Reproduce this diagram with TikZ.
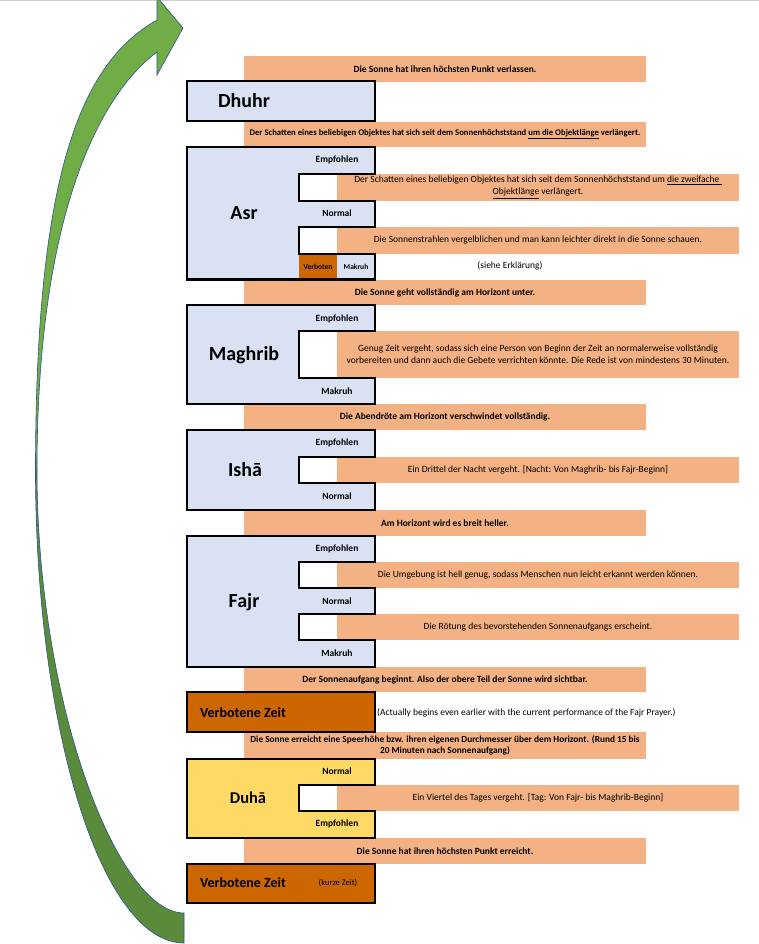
\documentclass[tikz,border=0pt]{standalone}
\usepackage{fontspec}
\setmainfont{Carlito}
\definecolor{boxblue}{HTML}{D9E1F2}
\definecolor{peach}{HTML}{F4B183}
\definecolor{burnt}{HTML}{CC6600}
\definecolor{sun}{HTML}{FFD966}
\definecolor{leafL}{HTML}{70AD47}
\definecolor{leafD}{HTML}{5A8B3A}
\definecolor{rim}{HTML}{2F528F}
\tikzset{
  banner/.style={fill=peach, inner sep=0pt, minimum width=402pt, minimum height=26pt, font=\fontsize{9.5}{11.5}\selectfont\bfseries, align=center},
  longbanner/.style={fill=peach, inner sep=0pt, minimum width=402pt, minimum height=26pt, font=\fontsize{9.5}{12}\selectfont, align=center},
  prayer/.style={draw=black, line width=2.6pt, fill=boxblue, line join=miter},
  bigname/.style={font=\fontsize{20}{24}\selectfont\bfseries, inner sep=0pt},
  midname/.style={font=\fontsize{14}{17}\selectfont\bfseries, inner sep=0pt},
  tag/.style={font=\fontsize{9.5}{11}\selectfont\bfseries, inner sep=0pt},
  tinytag/.style={font=\fontsize{7.5}{9}\selectfont\bfseries, inner sep=0pt},
  note/.style={font=\fontsize{9.5}{11}\selectfont, inner sep=0pt},
  arrowpart/.style={draw=rim, line width=0.6pt}
}
\begin{document}
\begin{tikzpicture}[x=1pt,y=-1pt]
\useasboundingbox (0,0) rectangle (759,944);
\draw[gray!35, line width=1pt] (0,0.5) -- (759,0.5);

% green curved arrow
\path[arrowpart, fill=leafD] (35.5,470) .. controls (35.5,731) and (102,943) .. (184,943) -- (184,913) .. controls (118,913) and (37,705) .. (37,470) -- cycle;
\path[arrowpart, fill=leafL] (35.5,470) .. controls (35.5,170) and (82,62.5) .. (157,20) -- (157,-3) -- (183,28) -- (157,75) -- (157,52) .. controls (97,97) and (37,220) .. (37,470) -- cycle;

% banners
\node[banner] (b1) at (445,69) {Die Sonne hat ihren höchsten Punkt verlassen.};
\node[banner, minimum height=25pt, font=\fontsize{8.7}{11}\selectfont\bfseries] (b2) at (445,134.5) {Der Schatten eines beliebigen Objektes hat sich seit dem Sonnenhöchststand \underline{um die Objektlänge} verlängert.};
\node[longbanner, minimum height=27pt] (asr1) at (538,187.5) {Der Schatten eines beliebigen Objektes hat sich seit dem Sonnenhöchststand um \underline{die zweifache\ }\\\underline{Objektlänge} verlängert.};
\node[longbanner, minimum height=27pt] (asr2) at (538,240.5) {Die Sonnenstrahlen vergelblichen und man kann leichter direkt in die Sonne schauen.};
\node[banner, minimum height=25pt] (b3) at (445,292.5) {Die Sonne geht vollständig am Horizont unter.};
\node[longbanner, minimum height=47pt] (mag1) at (538,354.5) {Genug Zeit vergeht, sodass sich eine Person von Beginn der Zeit an normalerweise vollständig\\vorbereiten und dann auch die Gebete verrichten könnte. Die Rede ist von mindestens 30 Minuten.};
\node[banner] (b4) at (445,417) {Die Abendröte am Horizont verschwindet vollständig.};
\node[longbanner] (isha1) at (538,470) {Ein Drittel der Nacht vergeht. [Nacht: Von Maghrib- bis Fajr-Beginn]};
\node[banner] (b5) at (445,523) {Am Horizont wird es breit heller.};
\node[longbanner] (fajr1) at (538,575) {Die Umgebung ist hell genug, sodass Menschen nun leicht erkannt werden können.};
\node[longbanner] (fajr2) at (538,627) {Die Rötung des bevorstehenden Sonnenaufgangs erscheint.};
\node[banner, minimum height=25pt] (b6) at (445,679.5) {Der Sonnenaufgang beginnt. Also der obere Teil der Sonne wird sichtbar.};
\node[banner, minimum height=27pt, font=\fontsize{9.3}{11}\selectfont\bfseries] (b7) at (445,745.5) {Die Sonne erreicht eine Speerhöhe bzw. ihren eigenen Durchmesser über dem Horizont. (Rund 15 bis\\20 Minuten nach Sonnenaufgang)};
\node[longbanner] (duha1) at (538,798) {Ein Viertel des Tages vergeht. [Tag: Von Fajr- bis Maghrib-Beginn]};
\node[banner] (b8) at (445,851) {Die Sonne hat ihren höchsten Punkt erreicht.};

% Dhuhr
\node[prayer, minimum width=188pt, minimum height=40pt, inner sep=0pt] (dhuhrbox) at (281,101) {};
\node[bigname] (dhuhr) at (244,101) {Dhuhr};

% Asr
\path[prayer] (187,147) -- (375,147) -- (375,174) -- (299,174) -- (299,201) -- (375,201) -- (375,227) -- (299,227) -- (299,254) -- (375,254) -- (375,279.5) -- (187,279.5) -- cycle;
\fill[burnt] (299,255.3) rectangle (337,278.2);
\node[bigname] (asr) at (244,213) {Asr};
\node[tag] (asrE) at (337,160) {Empfohlen};
\node[tag] (asrN) at (337,213.5) {Normal};
\node[tinytag] (asrV) at (318,267) {Verboten};
\node[tinytag] (asrM) at (356,267) {Makruh};
\node[note] (asrS) at (510,266) {(siehe Erklärung)};

% Maghrib
\path[prayer] (187,305) -- (375,305) -- (375,331) -- (299,331) -- (299,378) -- (375,378) -- (375,404) -- (187,404) -- cycle;
\node[bigname] (maghrib) at (244,355) {Maghrib};
\node[tag] (magE) at (337,319) {Empfohlen};
\node[tag] (magM) at (337,391) {Makruh};

% Isha
\path[prayer] (187,430) -- (375,430) -- (375,457) -- (299,457) -- (299,483) -- (375,483) -- (375,510) -- (187,510) -- cycle;
\node[bigname] (isha) at (245,470) {Ishā};
\node[tag] (ishaE) at (337,443) {Empfohlen};
\node[tag] (ishaN) at (337,496) {Normal};

% Fajr
\path[prayer] (187,536) -- (375,536) -- (375,562) -- (299,562) -- (299,588) -- (375,588) -- (375,614) -- (299,614) -- (299,640) -- (375,640) -- (375,667) -- (187,667) -- cycle;
\node[bigname] (fajr) at (244,602) {Fajr};
\node[tag] (fajrE) at (337,548.5) {Empfohlen};
\node[tag] (fajrN) at (337,601) {Normal};
\node[tag] (fajrM) at (337,653) {Makruh};

% Verbotene Zeit 1
\node[prayer, fill=burnt, minimum width=188pt, minimum height=40pt, inner sep=0pt] (vz1box) at (281,712) {};
\node[midname] (vz1) at (243,713) {Verbotene Zeit};
\node[note, anchor=west] (vz1note) at (377,713) {(Actually begins even earlier with the current performance of the Fajr Prayer.)};

% Duha
\path[prayer, fill=sun] (187,759) -- (375,759) -- (375,785) -- (299,785) -- (299,811) -- (375,811) -- (375,838) -- (187,838) -- cycle;
\node[font=\fontsize{16.5}{19}\selectfont\bfseries, inner sep=0pt] (duha) at (248,798) {Duhā};
\node[tag] (duhaN) at (337,771) {Normal};
\node[tag] (duhaE) at (337,824) {Empfohlen};

% Verbotene Zeit 2
\node[prayer, fill=burnt, minimum width=188pt, minimum height=39pt, inner sep=0pt] (vz2box) at (281,883.5) {};
\node[midname] (vz2) at (243,883) {Verbotene Zeit};
\node[font=\fontsize{8.5}{10}\selectfont, inner sep=0pt] (vz2note) at (338,883) {(kurze Zeit)};
\end{tikzpicture}
\end{document}
